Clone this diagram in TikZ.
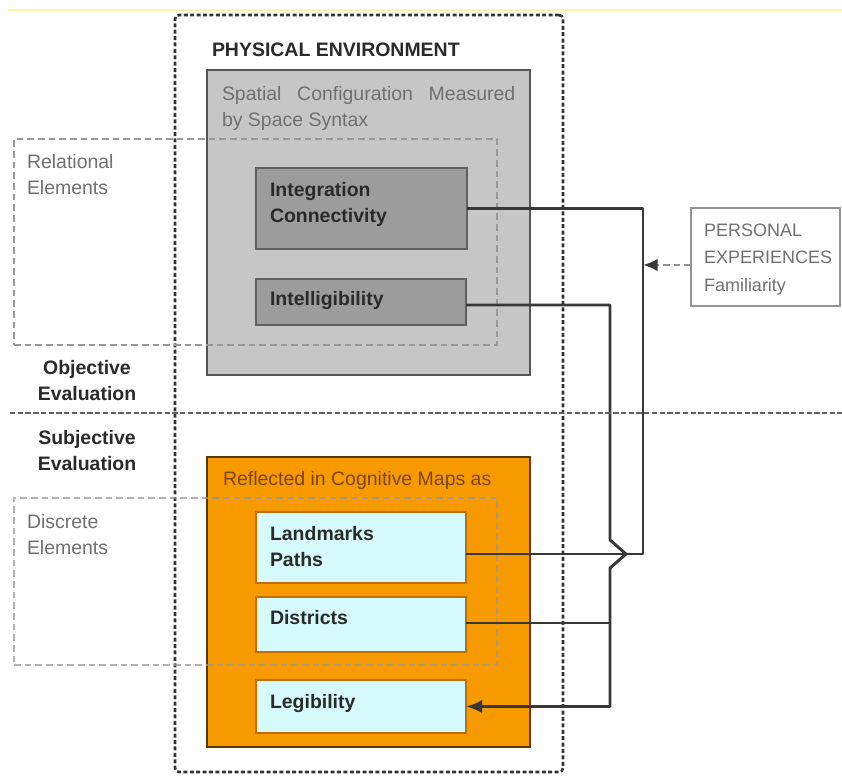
\documentclass[tikz,border=0pt]{standalone}
\usepackage{fontspec}
\setmainfont{Liberation Sans}
\usetikzlibrary{arrows.meta,calc}
\definecolor{grayfill}{HTML}{C6C6C6}
\definecolor{grayedge}{HTML}{555555}
\definecolor{darkfill}{HTML}{9C9C9C}
\definecolor{darkedge}{HTML}{606060}
\definecolor{orfill}{HTML}{F79A00}
\definecolor{oredge}{HTML}{5A3800}
\definecolor{cyfill}{HTML}{D6FAFC}
\definecolor{cyedge}{HTML}{C06E00}
\definecolor{conn}{HTML}{383838}
\definecolor{txtgray}{HTML}{707070}
\definecolor{txtdark}{HTML}{2A2A2A}
\definecolor{txtbrown}{HTML}{7A4600}
\definecolor{yel}{HTML}{FBF5A8}
\begin{document}
\begin{tikzpicture}[x=0.75pt,y=-0.75pt,
  every node/.style={inner sep=0pt, outer sep=0pt},
  txt/.style={anchor=north west, align=left, font=\fontsize{14.6}{20}\selectfont},
  btxt/.style={txt, font=\fontsize{14.6}{20}\selectfont\bfseries},
  outerbox/.style={draw=black!80, line width=2pt, dash pattern=on 3pt off 1.8pt, rounded corners=3pt},
  elembox/.style={draw=gray!80, line width=1.8pt, dash pattern=on 5pt off 3pt},
  graybox/.style={draw=grayedge, fill=grayfill, line width=2.1pt},
  darkbox/.style={draw=darkedge, fill=darkfill, line width=2pt},
  orbox/.style={draw=oredge, fill=orfill, line width=2.2pt},
  cybox/.style={draw=cyedge, fill=cyfill, line width=2pt},
  perbox/.style={draw=gray!85, fill=white, line width=1.7pt},
  link/.style={draw=conn, line width=2.2pt},
  sepline/.style={draw=black!62, line width=2.1pt, dash pattern=on 4pt off 1.8pt},
  tip/.style={-{Latex[length=12pt,width=10pt]}}
]
\useasboundingbox (0,0) rectangle (842,775);
\fill[white] (0,0) rectangle (842,775);
\coordinate (yl) at (8,10);
\coordinate (yr) at (842,10);
\draw[yel, line width=1.8pt] (yl) -- (yr);

% outer physical environment box
\node[outerbox, minimum width=291pt, minimum height=567.75pt] (env) at (369,393.5) {};
\node[btxt, text=txtdark] (envt) at (212,43) {PHYSICAL ENVIRONMENT};

% gray spatial configuration box
\node[graybox, minimum width=242.25pt, minimum height=228.75pt] (spat) at (368.5,222.5) {};
\node[txt, text=txtgray, text width=220pt, align=justify] (spatt) at (222,86) {Spatial Configuration Measured\linebreak by Space Syntax};

% relational elements dashed
\node[elembox, minimum width=362.25pt, minimum height=154.5pt] (rel) at (255.5,242) {};
\node[txt, text=txtgray] (relt) at (27,154) {Relational\\Elements};

\node[darkbox, minimum width=158.25pt, minimum height=60.75pt] (integ) at (361.5,208.5) {};
\node[btxt, text=txtdark] (integt) at (270,182) {Integration\\Connectivity};
\node[darkbox, minimum width=157.5pt, minimum height=34.5pt] (intel) at (361,302) {};
\node[btxt, text=txtdark] (intelt) at (270,291) {Intelligibility};

% personal experiences
\node[perbox, minimum width=111.75pt, minimum height=73.5pt] (pers) at (765.5,257) {};
\node[txt, text=txtgray, font=\fontsize{13.5}{20.5}\selectfont] (perst) at (704,224) {PERSONAL\\EXPERIENCES\\Familiarity};

% evaluation labels
\node[btxt, anchor=north, align=center, text=txtdark] (obj) at (87,360) {Objective\\Evaluation};
\node[btxt, anchor=north, align=center, text=txtdark] (subj) at (87,430) {Subjective\\Evaluation};

% orange box
\node[orbox, minimum width=242.25pt, minimum height=217.5pt] (cog) at (368.5,602) {};
\node[txt, text=txtbrown] (cogt) at (223,471) {Reflected in Cognitive Maps as};

\node[elembox, draw opacity=0.75, minimum width=362.25pt, minimum height=125.25pt] (disc) at (255.5,581.5) {};
\node[txt, text=txtgray] (disct) at (27,514) {Discrete\\Elements};

\node[cybox, minimum width=157.5pt, minimum height=53.25pt] (lmk) at (361,547.5) {};
\node[btxt, text=txtdark] (lmkt) at (270,526) {Landmarks\\Paths};
\node[cybox, minimum width=157.5pt, minimum height=41.25pt] (dist) at (361,624.5) {};
\node[btxt, text=txtdark] (distt) at (270,610) {Districts};
\node[cybox, minimum width=157.5pt, minimum height=39.75pt] (leg) at (361,706.5) {};
\node[btxt, text=txtdark] (legt) at (270,694) {Legibility};

% connectors
\coordinate (xr) at (643,0);
\coordinate (xl) at (610,0);
\coordinate (ylm) at (0,554);
\coordinate (yin) at (0,305);
\coordinate (ydi) at (0,623);
\coordinate (ype) at (0,265);
\coordinate (hopa) at (610,540);
\coordinate (hopm) at (626,554);
\coordinate (hopb) at (610,568);
\path[link, line join=round] (integ.east) -- (integ.east -| xr) -- (xr |- ylm) -- (lmk.east |- ylm);
\path[link, line join=round] (intel.east |- yin) -- (xl |- yin) -- (hopa) -- (hopm) -- (hopb) -- (xl |- leg.east) [tip] -- (leg.east);
\path[link] (dist.east |- ydi) -- (xl |- ydi);
\draw[draw=gray!85, line width=1.8pt, dash pattern=on 5pt off 3pt, -{Latex[length=11pt,width=9.5pt,color=conn]}] (pers.west |- ype) -- (xr |- ype);

% separator
\coordinate (sl) at (10,413);
\coordinate (sr) at (842,413);
\draw[sepline] (sl) -- (sr);
\end{tikzpicture}
\end{document}
